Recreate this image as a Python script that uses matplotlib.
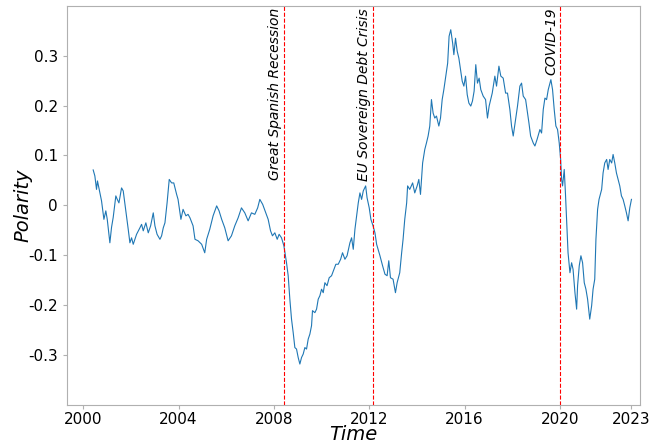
import matplotlib
matplotlib.use("Agg")
import matplotlib.pyplot as plt

# polarity series (decimal years)
years = [
    2000.42, 2000.49, 2000.56, 2000.60, 2000.70, 2000.77, 2000.87, 2000.95, 2001.01, 2001.12,
    2001.19, 2001.26, 2001.37, 2001.43, 2001.50, 2001.61, 2001.68, 2001.79, 2001.89, 2001.96,
    2002.03, 2002.10, 2002.24, 2002.38, 2002.45, 2002.52, 2002.63, 2002.73, 2002.83, 2002.94,
    2003.01, 2003.10, 2003.22, 2003.29, 2003.36, 2003.43, 2003.52, 2003.61, 2003.71, 2003.80,
    2003.92, 2003.98, 2004.10, 2004.19, 2004.31, 2004.40, 2004.48, 2004.61, 2004.69, 2004.82,
    2004.97, 2005.10, 2005.18, 2005.31, 2005.45, 2005.60, 2005.70, 2005.81, 2005.94, 2006.08,
    2006.22, 2006.36, 2006.50, 2006.64, 2006.78, 2006.92, 2007.06, 2007.20, 2007.32, 2007.41,
    2007.53, 2007.66, 2007.76, 2007.86, 2007.94, 2008.04, 2008.14, 2008.22, 2008.32, 2008.42,
    2008.53, 2008.60, 2008.67, 2008.74, 2008.81, 2008.88, 2008.95, 2009.02, 2009.09, 2009.16,
    2009.23, 2009.30, 2009.37, 2009.44, 2009.51, 2009.58, 2009.62, 2009.72, 2009.79, 2009.86,
    2009.93, 2010.00, 2010.07, 2010.14, 2010.23, 2010.32, 2010.42, 2010.52, 2010.60, 2010.70,
    2010.80, 2010.88, 2010.98, 2011.07, 2011.19, 2011.26, 2011.33, 2011.40, 2011.47, 2011.54,
    2011.61, 2011.68, 2011.75, 2011.85, 2011.91, 2012.00, 2012.07, 2012.16, 2012.24, 2012.31,
    2012.45, 2012.56, 2012.66, 2012.75, 2012.82, 2012.89, 2013.00, 2013.10, 2013.17, 2013.28,
    2013.36, 2013.42, 2013.49, 2013.57, 2013.61, 2013.70, 2013.82, 2013.91, 2014.01, 2014.08,
    2014.15, 2014.24, 2014.33, 2014.40, 2014.47, 2014.54, 2014.61, 2014.68, 2014.75, 2014.82,
    2014.92, 2014.99, 2015.06, 2015.13, 2015.21, 2015.29, 2015.35, 2015.42, 2015.50, 2015.55,
    2015.62, 2015.69, 2015.76, 2015.83, 2015.90, 2015.97, 2016.04, 2016.11, 2016.18, 2016.26,
    2016.33, 2016.40, 2016.47, 2016.54, 2016.61, 2016.68, 2016.78, 2016.88, 2016.96, 2017.03,
    2017.16, 2017.27, 2017.34, 2017.44, 2017.52, 2017.62, 2017.72, 2017.80, 2017.90, 2017.97,
    2018.04, 2018.14, 2018.22, 2018.32, 2018.39, 2018.46, 2018.56, 2018.62, 2018.70, 2018.77,
    2018.88, 2018.95, 2019.04, 2019.16, 2019.23, 2019.30, 2019.37, 2019.44, 2019.51, 2019.62,
    2019.69, 2019.76, 2019.83, 2019.90, 2019.97, 2020.03, 2020.07, 2020.11, 2020.18, 2020.23,
    2020.28, 2020.34, 2020.42, 2020.49, 2020.55, 2020.63, 2020.70, 2020.74, 2020.81, 2020.88,
    2020.95, 2021.02, 2021.09, 2021.16, 2021.25, 2021.33, 2021.39, 2021.46, 2021.51, 2021.58,
    2021.64, 2021.75, 2021.81, 2021.88, 2021.96, 2022.02, 2022.09, 2022.17, 2022.23, 2022.30,
    2022.37, 2022.44, 2022.51, 2022.58, 2022.65, 2022.72, 2022.79, 2022.86, 2022.93, 2023.00,
]
polarity = [
    0.071, 0.059, 0.032, 0.049, 0.026, 0.009, -0.028, -0.011, -0.028, -0.075,
    -0.044, -0.024, 0.019, 0.012, 0.005, 0.035, 0.029, -0.011, -0.048, -0.075,
    -0.065, -0.078, -0.058, -0.045, -0.038, -0.051, -0.035, -0.055, -0.041, -0.015,
    -0.041, -0.058, -0.068, -0.061, -0.045, -0.035, 0.005, 0.052, 0.045, 0.045,
    0.022, 0.012, -0.028, -0.008, -0.021, -0.018, -0.025, -0.041, -0.068, -0.071,
    -0.078, -0.095, -0.068, -0.048, -0.021, -0.001, -0.011, -0.028, -0.045, -0.071,
    -0.061, -0.041, -0.025, -0.005, -0.015, -0.031, -0.015, -0.018, -0.005, 0.012,
    0.002, -0.015, -0.028, -0.051, -0.061, -0.055, -0.068, -0.058, -0.065, -0.081,
    -0.115, -0.141, -0.188, -0.228, -0.255, -0.285, -0.288, -0.305, -0.318, -0.305,
    -0.298, -0.285, -0.288, -0.268, -0.258, -0.241, -0.211, -0.215, -0.208, -0.188,
    -0.181, -0.168, -0.175, -0.155, -0.161, -0.145, -0.141, -0.128, -0.118, -0.118,
    -0.108, -0.095, -0.108, -0.101, -0.075, -0.065, -0.088, -0.048, -0.021, 0.005,
    0.025, 0.012, 0.029, 0.039, 0.015, -0.005, -0.028, -0.041, -0.055, -0.078,
    -0.101, -0.121, -0.138, -0.141, -0.111, -0.145, -0.148, -0.175, -0.155, -0.135,
    -0.095, -0.068, -0.028, 0.005, 0.039, 0.032, 0.045, 0.025, 0.039, 0.052,
    0.022, 0.085, 0.112, 0.125, 0.139, 0.159, 0.212, 0.185, 0.175, 0.179,
    0.159, 0.175, 0.212, 0.232, 0.259, 0.285, 0.339, 0.352, 0.325, 0.302,
    0.335, 0.309, 0.295, 0.272, 0.249, 0.239, 0.259, 0.222, 0.205, 0.199,
    0.209, 0.229, 0.282, 0.245, 0.255, 0.232, 0.219, 0.212, 0.175, 0.199,
    0.225, 0.259, 0.239, 0.279, 0.259, 0.255, 0.225, 0.225, 0.192, 0.159,
    0.139, 0.172, 0.199, 0.239, 0.245, 0.219, 0.212, 0.192, 0.165, 0.139,
    0.125, 0.119, 0.132, 0.152, 0.145, 0.192, 0.215, 0.212, 0.232, 0.252,
    0.232, 0.192, 0.159, 0.152, 0.125, 0.092, 0.052, 0.039, 0.072, 0.025,
    -0.028, -0.095, -0.135, -0.115, -0.128, -0.175, -0.208, -0.161, -0.121, -0.101,
    -0.115, -0.155, -0.168, -0.188, -0.228, -0.201, -0.168, -0.148, -0.068, -0.008,
    0.012, 0.032, 0.065, 0.085, 0.092, 0.072, 0.092, 0.085, 0.102, 0.085,
    0.065, 0.052, 0.039, 0.019, 0.012, -0.001, -0.015, -0.031, -0.005, 0.012,
]

events = ["Great Spanish Recession", "EU Sovereign Debt Crisis", "COVID-19"]
event_years = [2008.42, 2012.16, 2020.01]

xticks = [2000, 2004, 2008, 2012, 2016, 2020, 2023]
yticks = [-0.3, -0.2, -0.1, 0, 0.1, 0.2, 0.3]
ytick_labels = ["-0.3", "-0.2", "-0.1", "0", "0.1", "0.2", "0.3"]

fig = plt.figure(figsize=(6.63, 4.45), dpi=100)
ax = fig.add_axes([0.101, 0.09, 0.864, 0.897])

ax.plot(years, polarity, color="#1f77b4", lw=0.8)

for name, yr in zip(events, event_years):
    ax.axvline(yr, color="red", linestyle="--", lw=0.8)
    ax.text(yr - 0.08, 0.396, name, rotation=90, ha="right", va="top",
            fontsize=10, style="italic")

ax.set_xlim(1999.32, 2023.35)
ax.set_ylim(-0.4, 0.4)
ax.set_xticks(xticks)
ax.set_xticklabels([str(t) for t in xticks])
ax.set_yticks(yticks)
ax.set_yticklabels(ytick_labels)
ax.tick_params(labelsize=11, length=3, color="#b0b0b0")
ax.tick_params(axis="x", pad=2)
for s in ax.spines.values():
    s.set_color("#b0b0b0")

ax.set_xlabel("Time", fontsize=14, style="italic", va="top")
ax.xaxis.set_label_coords(0.5, -0.05)
ax.set_ylabel("Polarity", fontsize=14, style="italic", labelpad=-3)

fig.savefig("out.png", dpi=100)
